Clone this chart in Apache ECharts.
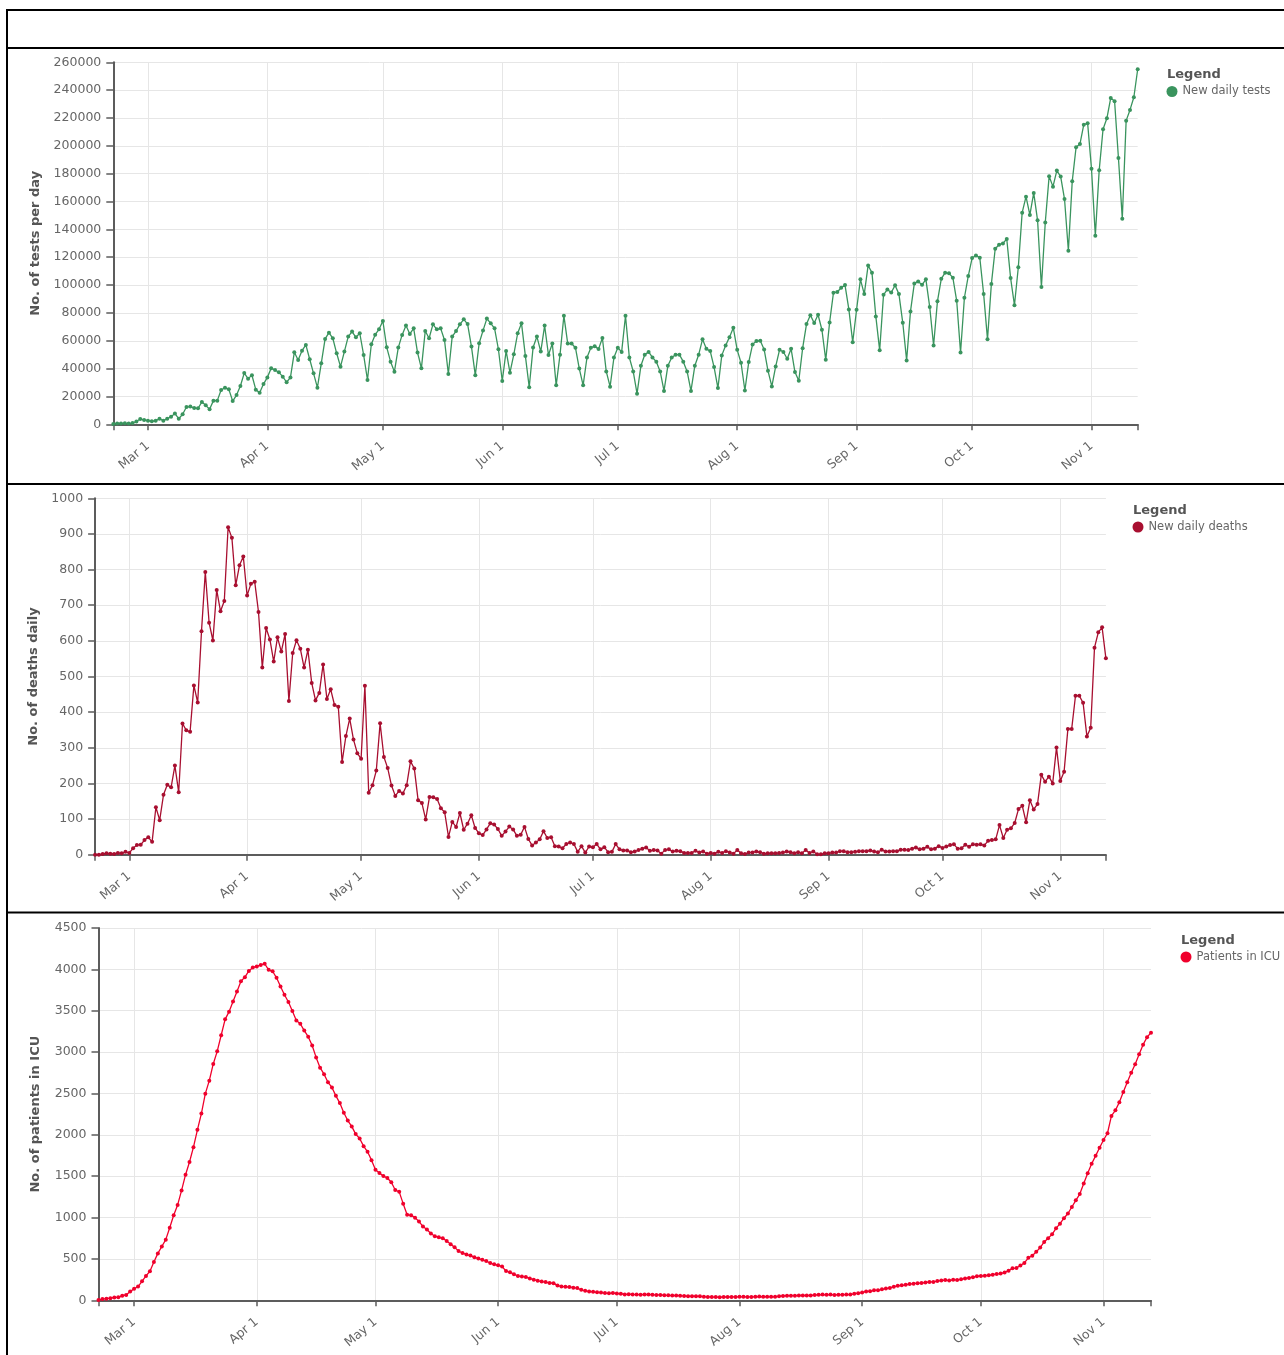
<!DOCTYPE html>
<html>
<head>
<meta charset="utf-8">
<script src="https://cdn.jsdelivr.net/npm/echarts@6/dist/echarts.min.js"></script>
<style>
  html, body { margin: 0; padding: 0; background: #fff; overflow: hidden; }
  #chart { width: 1284px; height: 1355px; }
</style>
</head>
<body>
<div id="chart"></div>
<script>
// one entry per day, starting 2020-02-21
const firstDay = Date.UTC(2020, 1, 21);
const dayCount = 267;
const monthNames = ['Jan', 'Feb', 'Mar', 'Apr', 'May', 'Jun', 'Jul', 'Aug', 'Sep', 'Oct', 'Nov', 'Dec'];

const days = [];
for (let i = 0; i < dayCount; i++) {
  days.push(new Date(firstDay + i * 86400000).toISOString().slice(0, 10));
}

const newDailyTests = [
  300, 600, 600, 700, 600, 900, 2000, 3800, 3100, 2600,
  2200, 2600, 4000, 2600, 4000, 5500, 7700, 4000, 7200, 12400,
  12700, 11700, 11500, 16000, 13600, 10800, 17000, 17000, 24600, 26300,
  25100, 16700, 21000, 27500, 36800, 32800, 35200, 24900, 22700, 28900,
  33700, 40200, 39000, 37300, 34200, 30200, 33700, 51700, 46200, 52900,
  57000, 46700, 36600, 26300, 43800, 61300, 65800, 61800, 51000, 41400,
  52200, 63000, 66600, 62500, 65400, 49800, 31800, 57500, 64400, 68200,
  74200, 55300, 45000, 37800, 55100, 64200, 70900, 64900, 68900, 51500,
  40200, 67000, 61800, 71800, 68200, 68900, 60600, 36100, 63000, 67000,
  71800, 75400, 72000, 55800, 35200, 58200, 67300, 75900, 72500, 68900,
  53900, 31100, 52700, 37100, 50300, 65400, 72500, 49100, 26600, 55100,
  63000, 52200, 70900, 49800, 58000, 28000, 50000, 78000, 58000, 58000,
  55000, 40000, 28000, 48000, 55000, 56000, 54000, 62000, 38000, 27000,
  48000, 55000, 52000, 78000, 48000, 38000, 22000, 42000, 50000, 52000,
  48000, 45000, 38000, 24000, 42000, 48000, 50000, 50000, 45000, 38000,
  24000, 42000, 50000, 61000, 54200, 52600, 41100, 26000, 49500, 56600,
  62600, 69300, 53500, 44200, 24300, 44700, 57400, 59800, 60000, 53800,
  38400, 27200, 41600, 53500, 51900, 47100, 54200, 37500, 31300, 54700,
  72000, 78400, 72700, 78700, 67900, 46300, 73200, 94500, 95000, 98100,
  100000, 82500, 59000, 82300, 104100, 93500, 114100, 108900, 77500, 53100,
  93000, 96900, 94700, 99800, 93500, 72900, 45900, 81100, 101200, 102600,
  100200, 104100, 84200, 56600, 88300, 104500, 108900, 108400, 105300, 88700,
  51600, 90900, 106500, 119400, 121300, 119600, 93500, 61000, 100700, 126100,
  129000, 129900, 133100, 105000, 85500, 112800, 152000, 163500, 150400, 166200,
  146500, 98600, 144900, 178100, 170700, 182200, 177900, 161800, 124700, 174500,
  199000, 201300, 215200, 216200, 183600, 135500, 182400, 211900, 219800, 234400,
  232000, 191300, 147700, 218100, 225800, 234900, 255000
];

const newDailyDeaths = [
  0, 0, 2, 4, 3, 2, 5, 4, 8, 5,
  18, 27, 28, 41, 49, 36, 133, 97, 168, 196,
  189, 250, 175, 368, 349, 345, 475, 427, 627, 793,
  651, 601, 743, 683, 712, 919, 889, 756, 812, 837,
  727, 760, 766, 681, 525, 636, 604, 542, 610, 570,
  619, 431, 566, 602, 578, 525, 575, 482, 433, 454,
  534, 437, 464, 420, 415, 260, 333, 382, 323, 285,
  269, 474, 174, 195, 236, 369, 274, 243, 194, 165,
  179, 172, 195, 262, 242, 153, 145, 99, 162, 161,
  156, 130, 119, 50, 92, 78, 117, 70, 87, 111,
  75, 60, 55, 71, 88, 85, 72, 53, 65, 79,
  71, 53, 56, 78, 44, 26, 34, 43, 66, 47,
  49, 24, 23, 18, 30, 34, 30, 8, 24, 6,
  23, 21, 30, 15, 21, 7, 8, 30, 15, 12,
  12, 7, 9, 13, 17, 20, 11, 13, 12, 3,
  13, 15, 9, 11, 10, 5, 5, 5, 11, 6,
  9, 3, 5, 3, 8, 5, 10, 6, 3, 13,
  4, 2, 6, 6, 9, 7, 3, 4, 4, 4,
  5, 6, 9, 7, 4, 7, 4, 13, 5, 9,
  1, 1, 4, 4, 6, 6, 10, 10, 7, 7,
  8, 10, 10, 10, 12, 9, 7, 14, 9, 9,
  10, 10, 14, 14, 13, 17, 20, 15, 17, 22,
  15, 17, 24, 19, 23, 27, 29, 17, 18, 28,
  22, 29, 28, 29, 26, 39, 41, 43, 83, 47,
  70, 74, 89, 128, 137, 91, 153, 127, 142, 224,
  205, 219, 200, 301, 207, 233, 353, 353, 446, 446,
  426, 332, 356, 581, 624, 638, 551
];

const patientsInIcu = [
  5, 15, 20, 26, 35, 36, 56, 64, 105, 140,
  166, 229, 295, 351, 462, 567, 650, 733, 877, 1028,
  1153, 1328, 1518, 1672, 1851, 2060, 2257, 2498, 2655, 2857,
  3009, 3204, 3396, 3489, 3612, 3732, 3856, 3906, 3981, 4023,
  4035, 4053, 4068, 3994, 3977, 3898, 3792, 3693, 3605, 3497,
  3381, 3343, 3260, 3186, 3079, 2936, 2812, 2733, 2635, 2573,
  2471, 2384, 2267, 2173, 2102, 2009, 1956, 1863, 1795, 1694,
  1578, 1539, 1501, 1479, 1427, 1333, 1311, 1168, 1034, 1027,
  999, 952, 893, 855, 808, 775, 762, 749, 716, 676,
  640, 595, 572, 553, 541, 521, 505, 489, 475, 450,
  435, 424, 408, 353, 338, 316, 293, 287, 283, 263,
  249, 236, 227, 220, 209, 207, 178, 168, 163, 161,
  152, 148, 127, 115, 107, 103, 97, 94, 87, 84,
  87, 82, 79, 71, 74, 71, 69, 68, 70, 71,
  67, 65, 65, 62, 60, 57, 59, 55, 53, 50,
  49, 49, 48, 43, 41, 40, 39, 38, 41, 40,
  41, 41, 42, 42, 41, 41, 42, 45, 43, 43,
  42, 42, 49, 53, 55, 56, 56, 58, 58, 58,
  58, 64, 66, 69, 66, 69, 65, 67, 68, 69,
  69, 79, 86, 94, 107, 109, 120, 121, 133, 142,
  150, 164, 175, 182, 187, 197, 201, 207, 208, 215,
  222, 222, 232, 239, 244, 239, 247, 246, 254, 264,
  271, 280, 291, 294, 297, 303, 309, 319, 323, 337,
  358, 387, 390, 420, 452, 514, 539, 586, 638, 705,
  750, 797, 870, 926, 992, 1049, 1128, 1208, 1284, 1411,
  1536, 1651, 1746, 1843, 1938, 2019, 2228, 2296, 2393, 2518,
  2635, 2751, 2853, 2974, 3090, 3179, 3235
];

const font = 'DejaVu Sans';
const axisColor = '#5c5c5c';
const gridColor = '#e6e6e6';

const isMonthStart = (v) => v.slice(8) === '01';

function xAxis(gridIndex) {
  return {
    type: 'category',
    gridIndex,
    data: days,
    boundaryGap: false,
    axisLine: { lineStyle: { color: axisColor, width: 2 } },
    axisTick: {
      length: 6,
      lineStyle: { color: axisColor, width: 1.5 },
      interval: (i, v) => isMonthStart(v) || i === 0 || i === dayCount - 1
    },
    axisLabel: {
      interval: (i, v) => isMonthStart(v),
      rotate: 40,
      margin: 20,
      color: '#666',
      fontFamily: font,
      fontSize: 12.5,
      formatter: (v) => monthNames[+v.slice(5, 7) - 1] + ' 1'
    },
    splitLine: {
      show: true,
      interval: (i, v) => isMonthStart(v),
      lineStyle: { color: gridColor, width: 1 }
    }
  };
}

function yAxis(gridIndex, max, interval, name, nameGap) {
  return {
    type: 'value',
    gridIndex,
    min: 0,
    max,
    interval,
    name,
    nameLocation: 'middle',
    nameGap,
    nameTextStyle: { fontFamily: font, fontWeight: 'bold', fontSize: 13, color: '#555' },
    axisLine: { show: true, lineStyle: { color: axisColor, width: 2 } },
    axisTick: { show: true, length: 7, lineStyle: { color: axisColor, width: 1.5 } },
    axisLabel: { margin: 12, color: '#666', fontFamily: font, fontSize: 12.5, formatter: (v) => String(v) },
    splitLine: { lineStyle: { color: gridColor, width: 1 } }
  };
}

function lineSeries(name, idx, data, color) {
  return {
    name,
    type: 'line',
    xAxisIndex: idx,
    yAxisIndex: idx,
    data,
    symbol: 'circle',
    symbolSize: 4,
    showSymbol: true,
    showAllSymbol: true,
    color,
    lineStyle: { color, width: 1.3 },
    itemStyle: { color },
    emphasis: { disabled: true }
  };
}

function legendTitle(left, top) {
  return {
    text: 'Legend',
    left,
    top,
    padding: 0,
    textStyle: { fontFamily: font, fontWeight: 'bold', fontSize: 13, color: '#555' }
  };
}

function legendBox(name, left, top) {
  return {
    data: [name],
    left,
    top,
    padding: 0,
    icon: 'circle',
    itemWidth: 11,
    itemHeight: 11,
    selectedMode: false,
    textStyle: { fontFamily: font, fontSize: 11.5, color: '#666' }
  };
}

function hLine(y) {
  return { type: 'line', shape: { x1: 7, y1: y, x2: 1290, y2: y }, style: { stroke: '#000', lineWidth: 2 } };
}

const chart = echarts.init(document.getElementById('chart'), null, { renderer: 'canvas' });

chart.setOption({
  animation: false,
  backgroundColor: '#fff',
  title: [
    legendTitle(1167, 68),
    legendTitle(1133, 504),
    legendTitle(1181, 934)
  ],
  legend: [
    legendBox('New daily tests', 1166.5, 85.5),
    legendBox('New daily deaths', 1132.5, 521),
    legendBox('Patients in ICU', 1180.5, 951)
  ],
  grid: [
    { left: 113.3, top: 62.3, width: 1024.4, height: 362 },
    { left: 95.1, top: 498.3, width: 1010.8, height: 356.4 },
    { left: 98.5, top: 928, width: 1052.5, height: 372.3 }
  ],
  xAxis: [xAxis(0), xAxis(1), xAxis(2)],
  yAxis: [
    yAxis(0, 260000, 20000, 'No. of tests per day', 71),
    yAxis(1, 1000, 100, 'No. of deaths daily', 53),
    yAxis(2, 4500, 500, 'No. of patients in ICU', 56.5)
  ],
  series: [
    lineSeries('New daily tests', 0, newDailyTests, '#3a945e'),
    lineSeries('New daily deaths', 1, newDailyDeaths, '#a80f30'),
    lineSeries('Patients in ICU', 2, patientsInIcu, '#f0002c')
  ],
  graphic: [
    hLine(10), hLine(48), hLine(484), hLine(912.5),
    { type: 'line', shape: { x1: 7, y1: 9, x2: 7, y2: 1360 }, style: { stroke: '#000', lineWidth: 2 } }
  ]
});
</script>
</body>
</html>
